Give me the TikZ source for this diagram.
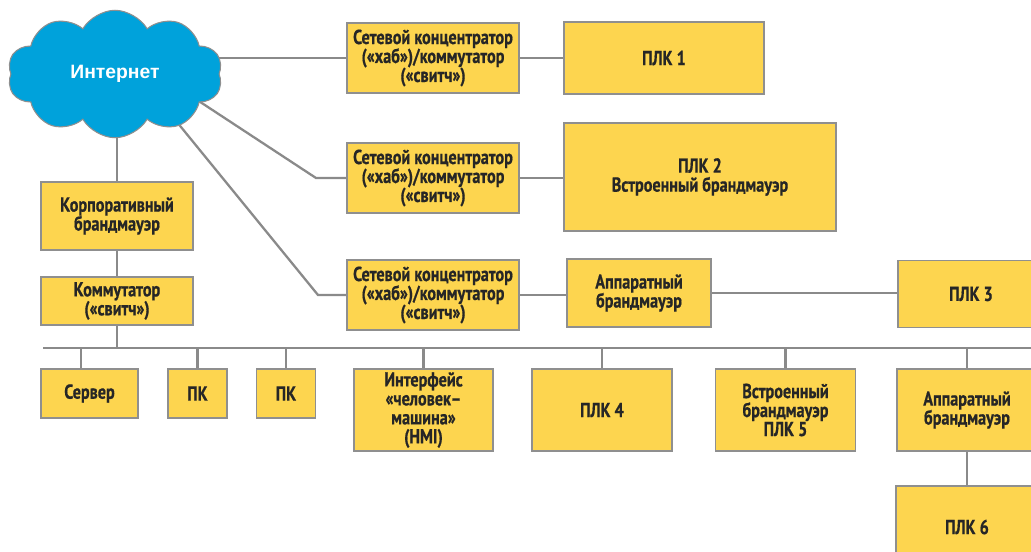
\documentclass[tikz,border=0pt]{standalone}
\usepackage{fontspec}
\setmainfont{PT Sans}
\newfontfamily\boxfont{PT Sans}[FakeStretch=0.8, FakeBold=0.6]
\newfontfamily\cloudfont{Liberation Sans}
\usetikzlibrary{shapes.symbols,positioning,backgrounds}
\definecolor{plcyellow}{HTML}{FDD54F}
\definecolor{framegray}{HTML}{8F8F8F}
\definecolor{linkgray}{HTML}{8A8A8A}
\definecolor{netblue}{HTML}{00A2DB}
\tikzset{%
	unitbox/.style={draw=framegray, line width=0.8pt, fill=plcyellow, align=center, inner sep=1pt, text=black!85, font=\boxfont\bfseries\fontsize{11.5}{10.8}\selectfont},
	hubbox/.style={unitbox, minimum width=3.44cm, minimum height=1.4cm},
	lanbox/.style={unitbox, minimum width=2.8cm, minimum height=1.64cm},
	pcbox/.style={unitbox, minimum width=1.18cm, minimum height=0.98cm},
	link/.style={draw=linkgray, line width=1.3pt},
	netcloud/.style={cloud, cloud puffs=10, cloud puff arc=120, aspect=1.7, draw=framegray, line width=0.6pt, fill=netblue, text=white, minimum width=4.3cm, minimum height=2.55cm, font=\cloudfont\bfseries\fontsize{11}{13}\selectfont}
}

\begin{document}
\begin{tikzpicture}[x=0.02cm, y=-0.02cm]
	\useasboundingbox (0,0) rectangle (1031,551);
	
	\node[netcloud] (inet) at (115,74) {Интернет};
	
	\node[hubbox] (hubA) at (433,58) {Сетевой концентратор\\(«хаб»)/коммутатор\\(«свитч»)};
	\node[hubbox] (hubB) at (433,178) {Сетевой концентратор\\(«хаб»)/коммутатор\\(«свитч»)};
	\node[hubbox] (hubC) at (433,295) {Сетевой концентратор\\(«хаб»)/коммутатор\\(«свитч»)};
	
	\node[unitbox, minimum width=4cm, minimum height=1.44cm] (plc1) at (664,58) {ПЛК 1};
	\node[unitbox, minimum width=5.44cm, minimum height=2.16cm] (plc2) at (700,177) {ПЛК 2\\Встроенный брандмауэр};
	\node[unitbox, minimum width=2.88cm, minimum height=1.36cm] (hwA) at (639,293) {Аппаратный\\брандмауэр};
	\node[unitbox, minimum width=2.92cm, minimum height=1.34cm] (plc3) at (971,294) {ПЛК 3};
	
	\node[unitbox, minimum width=3.04cm, minimum height=1.36cm] (corp) at (117,216) {Корпоративный\\брандмауэр};
	\node[unitbox, minimum width=3.04cm, minimum height=0.96cm] (sw) at (117,301) {Коммутатор\\(«свитч»)};
	
	\node[pcbox, minimum width=1.94cm] (srv) at (89.5,393.5) {Сервер};
	\node[pcbox] (pcA) at (197.5,393.5) {ПК};
	\node[pcbox] (pcB) at (286,393.5) {ПК};
	\node[lanbox, minimum width=2.78cm] (hmi) at (423.5,410) {Интерфейс\\«человек–\\машина»\\(HMI)};
	\node[lanbox] (plc4) at (602,410) {ПЛК 4};
	\node[lanbox] (plc5) at (785.5,410) {Встроенный\\брандмауэр\\ПЛК 5};
	\node[lanbox] (hwB) at (967,410) {Аппаратный\\брандмауэр};
	\node[lanbox, minimum width=2.84cm] (plc6) at (967,527) {ПЛК 6};
	
	\coordinate (tailB) at (150,69);
	\coordinate (bendB) at (316,178);
	\coordinate (tailC) at (150,89);
	\coordinate (bendC) at (318,295);
	\coordinate (busL) at (43,348);
	\coordinate (busR) at (1040,348);
	
	\begin{scope}[on background layer]
		\draw[link] (inet.center |- hubA) -- (hubA);
		\draw[link] (tailB) -- (bendB) -- (hubB);
		\draw[link] (tailC) -- (bendC) -- (hubC);
		\draw[link] (corp) -- (corp |- inet.center);
		\draw[link] (hubA) -- (plc1);
		\draw[link] (hubB) -- (hubB -| plc2.west);
		\draw[link] (hubC) -- (hubC -| hwA.west);
		\draw[link] (hwA) -- (hwA -| plc3.west);
		\draw[link] (corp) -- (sw);
		\draw[link] (sw) -- (sw |- busL);
		\draw[link] (busL) -- (busR);
		\draw[link] ([xshift=-0.17cm]srv.north) -- ([xshift=-0.17cm]srv.north |- busL);
		\foreach \n in {pcA,pcB,hmi,plc4,plc5,hwB}
			\draw[link] (\n) -- (\n |- busL);
		\draw[link] (hwB) -- (plc6);
	\end{scope}
\end{tikzpicture}
\end{document}
